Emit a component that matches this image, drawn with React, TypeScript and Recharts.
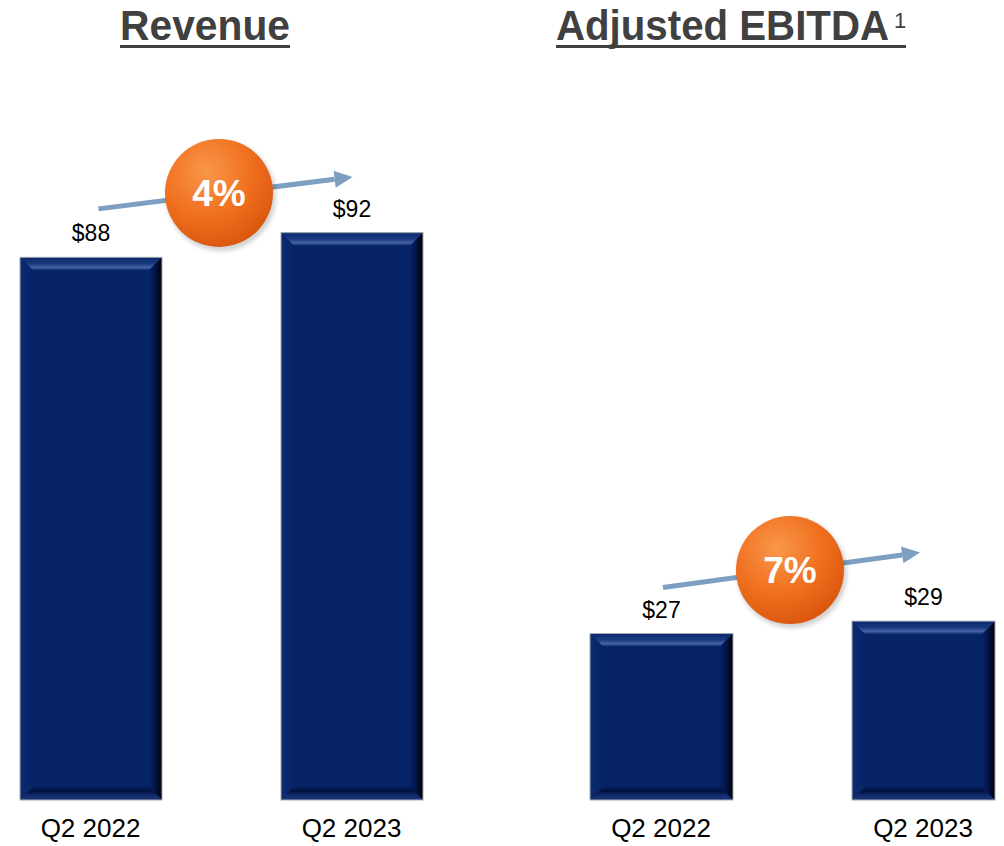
import { BarChart, Bar, XAxis, YAxis, LabelList, ReferenceLine } from "recharts";

const CATEGORIES = ["Q2 2022", "Q2 2023"];
const REVENUE = [88, 92];
const EBITDA = [27, 29];
const GROWTH = ["4%", "7%"];

// growth arrow: drawn from the first to the second quarter, y in $M
const REVENUE_ARROW_Y = [95.7, 101];
const EBITDA_ARROW_Y = [34.4, 40.2];

const NAVY = "#062366";
const FONT = "'Liberation Sans', Arial, sans-serif";
const TITLE_FONT = "'Liberation Sans Narrow', 'Arial Narrow', sans-serif";

function BevelBar(props: any) {
  const { x, y, width: w, height: h } = props;
  const b = Math.min(13, h / 2);
  return (
    <g>
      <rect x={x} y={y} width={w} height={h} fill={NAVY} />
      <polygon
        points={`${x},${y} ${x + w},${y} ${x + w - b},${y + b} ${x + b},${y + b}`}
        fill="url(#bevTop)"
      />
      <polygon
        points={`${x},${y} ${x + b},${y + b} ${x + b},${y + h - b} ${x},${y + h}`}
        fill="url(#bevLeft)"
      />
      <polygon
        points={`${x + w},${y} ${x + w},${y + h} ${x + w - b},${y + h - b} ${x + w - b},${y + b}`}
        fill="url(#bevRight)"
      />
      <polygon
        points={`${x},${y + h} ${x + b},${y + h - b} ${x + w - b},${y + h - b} ${x + w},${y + h}`}
        fill="url(#bevBottom)"
      />
      <rect x={x} y={y} width={w} height={h} fill="none" stroke="#a3a9b3" strokeWidth={1} />
    </g>
  );
}

function growthShape(label: string, startInset: number, endInset: number) {
  return (props: any) => {
    const len = Math.hypot(props.x2 - props.x1, props.y2 - props.y1);
    const dx = (props.x2 - props.x1) / len;
    const dy = (props.y2 - props.y1) / len;
    const x1 = props.x1 + dx * startInset;
    const y1 = props.y1 + dy * startInset;
    const x2 = props.x2 - dx * endInset;
    const y2 = props.y2 - dy * endInset;
    const head = 18;
    const bx = x2 - dx * head;
    const by = y2 - dy * head;
    const nx = -dy * 8.5;
    const ny = dx * 8.5;
    const mx = (props.x1 + props.x2) / 2 - 2;
    const my = (y1 + y2) / 2;
    return (
      <g>
        <line x1={x1} y1={y1} x2={bx} y2={by} stroke="#7d9fc2" strokeWidth={5} />
        <polygon
          points={`${x2},${y2} ${bx + nx},${by + ny} ${bx - nx},${by - ny}`}
          fill="#7d9fc2"
        />
        <circle cx={mx + 2} cy={my + 3} r={55} fill="rgba(0,0,0,0.18)" filter="url(#orbShadow)" />
        <circle cx={mx} cy={my} r={54} fill="url(#orb)" />
        <text
          x={mx}
          y={my + 13}
          textAnchor="middle"
          fill="#ffffff"
          fontFamily={FONT}
          fontWeight="bold"
          fontSize={37}
        >
          {label}
        </text>
      </g>
    );
  };
}

function Panel({
  values,
  growth,
  arrowY,
  insets,
  left,
  width,
  barSize,
}: {
  values: number[];
  growth: string;
  arrowY: number[];
  insets: number[];
  left: number;
  width: number;
  barSize: number;
}) {
  const data = CATEGORIES.map((q, i) => ({ q, value: values[i] }));
  return (
    <div style={{ position: "absolute", left, top: 0 }}>
      <BarChart
        width={width}
        height={846}
        data={data}
        margin={{ top: 60, right: 0, left: 0, bottom: 0 }}
      >
        <XAxis
          dataKey="q"
          height={46}
          axisLine={false}
          tickLine={false}
          tickSize={0}
          tickMargin={19}
          interval={0}
          tick={{ fill: "#000", fontSize: 26, fontFamily: FONT }}
        />
        <YAxis hide domain={[0, 120]} />
        <Bar dataKey="value" barSize={barSize} shape={BevelBar} isAnimationActive={false}>
          <LabelList
            dataKey="value"
            position="top"
            offset={16}
            formatter={(v: number) => `$${v}`}
            fill="#000"
            fontSize={23}
            fontFamily={FONT}
          />
        </Bar>
        <ReferenceLine
          segment={[
            { x: CATEGORIES[0], y: arrowY[0] },
            { x: CATEGORIES[1], y: arrowY[1] },
          ]}
          ifOverflow="visible"
          shape={growthShape(growth, insets[0], insets[1])}
        />
      </BarChart>
    </div>
  );
}

function Title({ text, sup, x, width }: { text: string; sup?: string; x: number; width: number }) {
  const supW = sup ? 17 : 0;
  return (
    <g fill="#404040">
      <text x={x} y={40} fontFamily={TITLE_FONT} fontWeight="bold" fontSize={42}>
        <tspan textLength={width} lengthAdjust="spacingAndGlyphs">
          {text}
        </tspan>
        {sup && (
          <tspan x={x + width + 5} y={28} fontFamily={FONT} fontWeight="normal" fontSize={22}>
            {sup}
          </tspan>
        )}
      </text>
      <rect x={x} y={45} width={width + supW} height={3} />
    </g>
  );
}

export default function App() {
  return (
    <div
      style={{
        position: "absolute",
        left: 0,
        top: 0,
        width: 1004,
        height: 846,
        overflow: "hidden",
        background: "#fff",
      }}
    >
      <svg width={0} height={0} style={{ position: "absolute" }}>
        <defs>
          <linearGradient id="bevTop" x1="0" y1="0" x2="0" y2="1">
            <stop offset="0%" stopColor="#0a296c" />
            <stop offset="50%" stopColor="#1a3a80" />
            <stop offset="78%" stopColor="#4564a5" />
            <stop offset="100%" stopColor="#0c2a6c" />
          </linearGradient>
          <linearGradient id="bevLeft" x1="0" y1="0" x2="1" y2="0">
            <stop offset="0%" stopColor="#0c2b70" />
            <stop offset="100%" stopColor={NAVY} />
          </linearGradient>
          <linearGradient id="bevRight" x1="0" y1="0" x2="1" y2="0">
            <stop offset="0%" stopColor={NAVY} />
            <stop offset="45%" stopColor="#03154a" />
            <stop offset="100%" stopColor="#000000" />
          </linearGradient>
          <linearGradient id="bevBottom" x1="0" y1="0" x2="0" y2="1">
            <stop offset="0%" stopColor="#051d58" />
            <stop offset="35%" stopColor="#02123f" />
            <stop offset="60%" stopColor="#10296a" />
            <stop offset="100%" stopColor="#1d3777" />
          </linearGradient>
          <radialGradient id="orb" cx="38%" cy="30%" r="75%">
            <stop offset="0%" stopColor="#f9974a" />
            <stop offset="55%" stopColor="#f0701f" />
            <stop offset="100%" stopColor="#d9540c" />
          </radialGradient>
          <filter id="orbShadow" x="-20%" y="-20%" width="140%" height="140%">
            <feGaussianBlur stdDeviation="2" />
          </filter>
        </defs>
      </svg>
      <Panel
        values={REVENUE}
        growth={GROWTH[0]}
        arrowY={REVENUE_ARROW_Y}
        insets={[8, -1]}
        left={-40}
        width={522}
        barSize={142}
      />
      <Panel
        values={EBITDA}
        growth={GROWTH[1]}
        arrowY={EBITDA_ARROW_Y}
        insets={[2, 3]}
        left={530}
        width={524}
        barSize={143}
      />
      <svg width={1004} height={60} style={{ position: "absolute", left: 0, top: 0 }}>
        <Title text="Revenue" x={120} width={170} />
        <Title text="Adjusted EBITDA" sup="1" x={556} width={333} />
      </svg>
    </div>
  );
}
